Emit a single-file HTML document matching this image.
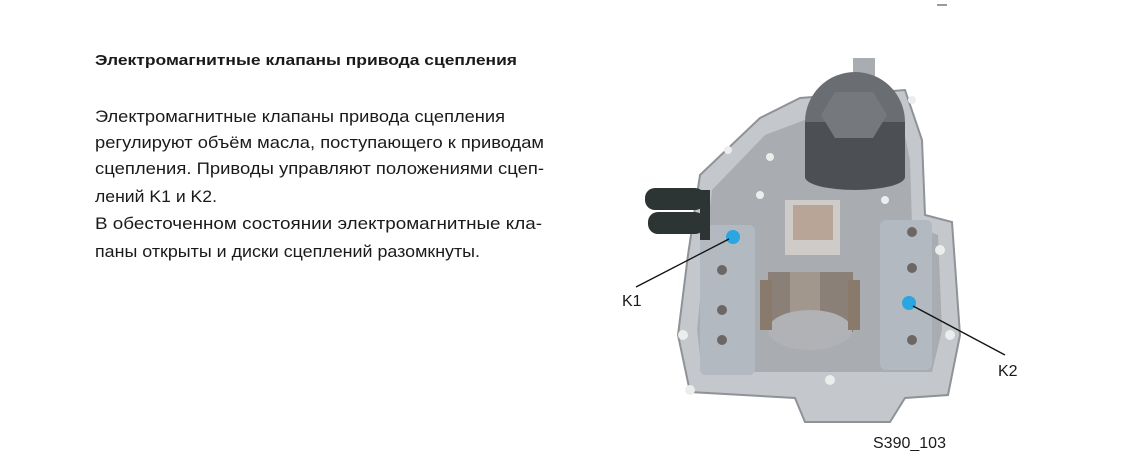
<!DOCTYPE html>
<html><head><meta charset="utf-8"><style>
html,body{margin:0;padding:0;background:#fff;width:1139px;height:460px;overflow:hidden}
svg{display:block}
text{font-family:"Liberation Sans",sans-serif;fill:#1a1a1a}
</style></head><body>
<svg width="1139" height="460" viewBox="0 0 1139 460">
<line x1="937" y1="5" x2="947" y2="5" stroke="#333" stroke-width="1"/>
<text x="95" y="65" font-size="15" font-weight="bold" textLength="422" lengthAdjust="spacingAndGlyphs">Электромагнитные клапаны привода сцепления</text>
<g font-size="16.5" fill="#222">
<text x="95" y="122" textLength="410" lengthAdjust="spacingAndGlyphs">Электромагнитные клапаны привода сцепления</text>
<text x="95" y="148" textLength="449" lengthAdjust="spacingAndGlyphs">регулируют объём масла, поступающего к приводам</text>
<text x="95" y="174" textLength="449" lengthAdjust="spacingAndGlyphs">сцепления. Приводы управляют положениями сцеп-</text>
<text x="95" y="202" textLength="122" lengthAdjust="spacingAndGlyphs">лений K1 и K2.</text>
<text x="95" y="229" textLength="447" lengthAdjust="spacingAndGlyphs">В обесточенном состоянии электромагнитные кла-</text>
<text x="95" y="257" textLength="385" lengthAdjust="spacingAndGlyphs">паны открыты и диски сцеплений разомкнуты.</text>
</g>
<!-- housing -->
<polygon points="700,175 760,118 800,98 905,90 922,140 925,215 952,222 960,335 948,395 905,398 890,422 805,422 795,398 690,392 678,335 688,255" fill="#c4c7cb" stroke="#8f9296" stroke-width="2"/>
<polygon points="712,190 765,135 810,118 900,112 910,160 912,225 938,235 942,330 932,372 702,372 697,330 704,260" fill="#a9adb2"/>
<rect x="700" y="225" width="55" height="150" rx="6" fill="#b2b9c0"/>
<rect x="880" y="220" width="52" height="150" rx="6" fill="#b2b9c0"/>
<g fill="#6c6664">
<circle cx="722" cy="270" r="5"/><circle cx="722" cy="310" r="5"/><circle cx="722" cy="340" r="5"/>
<circle cx="912" cy="232" r="5"/><circle cx="912" cy="268" r="5"/><circle cx="912" cy="340" r="5"/>
</g>
<rect x="785" y="200" width="55" height="55" fill="#cfcbc9"/>
<rect x="793" y="205" width="40" height="35" fill="#b9a597"/>
<rect x="768" y="272" width="85" height="60" fill="#8a8077"/>
<rect x="790" y="272" width="30" height="60" fill="#a2978d"/>
<ellipse cx="810" cy="330" rx="42" ry="20" fill="#b0b2b6"/>
<rect x="760" y="280" width="12" height="50" fill="#8a7a6c"/>
<rect x="848" y="280" width="12" height="50" fill="#8a7a6c"/>
<!-- cap -->
<rect x="853" y="58" width="22" height="20" fill="#a9acb0"/>
<circle cx="855" cy="122" r="50" fill="#6a6d71"/>
<rect x="805" y="122" width="100" height="55" fill="#4c4f53"/>
<ellipse cx="855" cy="177" rx="50" ry="13" fill="#4c4f53"/>
<polygon points="835,92 873,92 887,115 873,138 835,138 821,115" fill="#75787c"/>
<!-- boot -->
<g fill="#2c3534">
<rect x="645" y="188" width="60" height="22" rx="10"/>
<rect x="648" y="212" width="57" height="22" rx="10"/>
<rect x="700" y="190" width="10" height="50"/>
</g>
<!-- white holes -->
<g fill="#eceded">
<circle cx="683" cy="335" r="5"/><circle cx="690" cy="390" r="5"/><circle cx="940" cy="250" r="5"/><circle cx="950" cy="335" r="5"/><circle cx="830" cy="380" r="5"/><circle cx="760" cy="195" r="4"/><circle cx="770" cy="157" r="4"/><circle cx="885" cy="200" r="4"/><circle cx="728" cy="150" r="4"/><circle cx="912" cy="100" r="4"/>
</g>
<circle cx="733" cy="237" r="7" fill="#2aa6e0"/>
<circle cx="909" cy="303" r="7" fill="#2aa6e0"/>
<line x1="729" y1="239" x2="636" y2="287" stroke="#111" stroke-width="1.3"/>
<line x1="913" y1="306" x2="1005" y2="355" stroke="#111" stroke-width="1.3"/>
<text x="622" y="306" font-size="16">K1</text>
<text x="998" y="376" font-size="16">K2</text>
<text x="873" y="448" font-size="16">S390_103</text>
</svg>
</body></html>
